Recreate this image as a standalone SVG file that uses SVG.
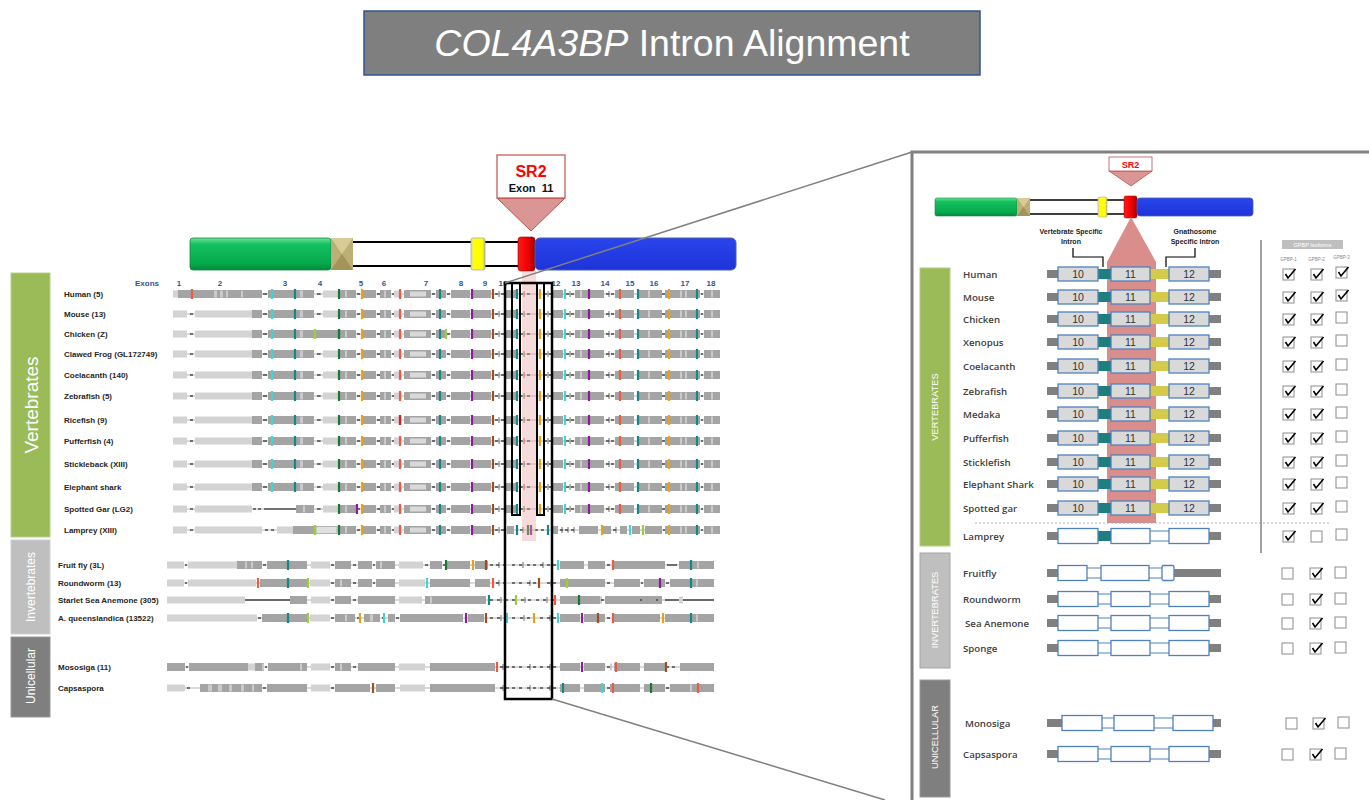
<svg xmlns="http://www.w3.org/2000/svg" width="1369" height="800" viewBox="0 0 1369 800">
<style>
text{font-family:"Liberation Sans",Arial,sans-serif}
.sp{font-size:8px;font-weight:bold;fill:#262626}
.ex{font-size:8px;font-weight:bold;fill:#2f5597;text-anchor:middle}
.lt{stroke:#d3d3d3;stroke-width:7;fill:none}
.dk{stroke:#a4a4a4;stroke-width:8;fill:none}
.ls{stroke:#cacaca;stroke-width:7;fill:none}
.ln{stroke:#b5b5b5;stroke-width:1;fill:none}
.ds{stroke:#4a4a4a;stroke-width:1.3;fill:none}
.vs{stroke:#4a4a4a;stroke-width:0.8;fill:none}
.bl{stroke:#444;stroke-width:1.4;fill:none}
.t{stroke-width:2.2;fill:none}
.cR{stroke:#ee5a44}.cC{stroke:#45d3d3}.cT{stroke:#14878a}.cG{stroke:#1a7a2c}.cO{stroke:#e7a21c}.cP{stroke:#8a1e9a}.cB{stroke:#9c4f22}.cL{stroke:#9dd03a}.cD{stroke:#c62828}
.rl{font-family:"Open Sans","Liberation Sans",Arial,sans-serif;font-size:9.7px;font-weight:600;fill:#404040}
.bn{font-size:10.5px;fill:#333;text-anchor:middle}
.bx{fill:#d9d9d9;stroke:#4f81bd;stroke-width:1.3}
.wb{fill:#fff;stroke:#4f81bd;stroke-width:1.3}
.wc{fill:#fff;stroke:#4f81bd;stroke-width:1}
.cap{fill:#808080}
.cb{fill:#fff;stroke:#8c8c8c;stroke-width:1}
.ck{fill:none;stroke:#000;stroke-width:1.6}
.cat{fill:#fff;text-anchor:middle}
.con{stroke:#808080;stroke-width:1.5;fill:none}
</style>
<defs>
<linearGradient id="gG" x1="0" y1="0" x2="0" y2="1"><stop offset="0" stop-color="#6fe09a"/><stop offset="0.2" stop-color="#14c15e"/><stop offset="0.8" stop-color="#05a94c"/><stop offset="1" stop-color="#03893c"/></linearGradient>
<linearGradient id="gB" x1="0" y1="0" x2="0" y2="1"><stop offset="0" stop-color="#2a45ee"/><stop offset="1" stop-color="#1c33d6"/></linearGradient>
<linearGradient id="gR" x1="0" y1="0" x2="1" y2="0"><stop offset="0" stop-color="#ff1a1a"/><stop offset="0.6" stop-color="#ee0000"/><stop offset="1" stop-color="#a00000"/></linearGradient>
<linearGradient id="gY" x1="0" y1="0" x2="1" y2="0"><stop offset="0" stop-color="#d8d8c0"/><stop offset="0.2" stop-color="#ffff00"/><stop offset="0.8" stop-color="#ffff00"/><stop offset="1" stop-color="#b8b890"/></linearGradient>
<g id="vA">
<path class="ln" d="M173 0H320"/>
<path class="lt" d="M173 0H187M195 0H252"/>
<path class="dk" d="M252 0H262M268 0H314"/>
<path class="ls" d="M300 0h3"/>
<path class="ds" d="M190 0h3M263 0h4M317 0h4"/>
<path class="t cC" d="M272 -5v10"/><path class="t cT" d="M295 -5v10"/>
</g>
<g id="vB">
<path class="ln" d="M320 0H720"/>
<path class="lt" d="M323 0H338M394 0H402"/>
<path class="dk" d="M338 0H356M361 0H376M380 0H391M404 0H431M436 0H446M451 0H470M473 0H491M506 0H516M553 0H563M575 0H588M590 0H604M615 0H634M637 0H662M665 0H700M704 0H720"/>
<rect x="410" y="-2.5" width="16" height="5" fill="#d9d9d9"/>
<path class="ls" d="M345 0h2M384 0h2M580 0h2M648 0h2M680 0h2M685 0h2M711 0h2"/>
<path class="ds" d="M357 0h3M377 0h3M392 0h2M432 0h3M447 0h3M495 0h3M501 0h3M520 0h3M527 0h3M544 0h3M549 0h3M566 0h3M571 0h3M606 0h3M611 0h3M662 0h3M701 0h2"/>
<path class="vs" d="M499 -3v6M548 -3v6M570 -3v6M609 -3v6M524 -3v6"/>
<path class="t cG" d="M339 -5v10"/>
<path class="t cO" d="M362 -5v10M540 -5v10M669 -5v10"/>
<path class="t cR" d="M400 -5v10M620 -5v10"/>
<path class="t cT" d="M440 -5v10M517 -5v10M638 -5v10M697 -5v10"/>
<path class="t cP" d="M472 -5v10M589 -5v10"/>
<path class="t cB" d="M493 -5v10"/>
<path class="t cC" d="M565 -5v10"/>
</g>
<g id="gr">
<rect class="cap" x="1047" y="-4" width="12" height="8"/>
<rect class="cap" x="1208" y="-4" width="13" height="8"/>
<rect x="1097" y="-5" width="15" height="10" fill="#1f7e7e"/>
<rect x="1149" y="-5" width="21" height="10" fill="#d5cb4b"/>
<rect class="bx" x="1058" y="-7" width="40" height="14"/>
<rect class="bx" x="1111" y="-7" width="39" height="14"/>
<rect class="bx" x="1169" y="-7" width="40" height="14"/>
<text class="bn" x="1078" y="3.6">10</text>
<text class="bn" x="1130.5" y="3.6">11</text>
<text class="bn" x="1189" y="3.6">12</text>
</g>
<g id="ir">
<rect class="cap" x="1047" y="-4" width="12" height="8"/>
<rect class="cap" x="1208" y="-4" width="13" height="8"/>
<rect class="wc" x="1097" y="-5" width="15" height="10"/>
<rect class="wc" x="1149" y="-5" width="21" height="10"/>
<rect class="wb" x="1058" y="-7.5" width="40" height="15"/>
<rect class="wb" x="1111" y="-7.5" width="39" height="15"/>
<rect class="wb" x="1169" y="-7.5" width="40" height="15"/>
</g>
<g id="on"><rect class="cb" x="0" y="0" width="11" height="11"/><path class="ck" d="M2.5 5L5 9L12.5 0"/></g>
<g id="off"><rect class="cb" x="0" y="0" width="11" height="11"/></g>
</defs>

<rect width="1369" height="800" fill="#fff"/>

<g id="title">
<rect x="364" y="11" width="616" height="64" fill="#7f7f7f" stroke="#2f5597" stroke-width="1.5"/>
<text x="672" y="56" font-size="37.5" fill="#fff" text-anchor="middle"><tspan font-style="italic">COL4A3BP</tspan> Intron Alignment</text>
</g>

<!-- left category bars -->
<g id="cat-vertebrates">
<rect x="11" y="273" width="39" height="264" fill="#9bbb59" stroke="#b8cf8a" stroke-width="1"/>
<text class="cat" font-size="19" transform="translate(37.7,405) rotate(-90)">Vertebrates</text>
</g>
<g id="cat-invertebrates">
<rect x="11" y="540" width="39" height="94" fill="#bfbfbf" stroke="#d0d0d0" stroke-width="1"/>
<text class="cat" font-size="12" fill="#f2f2f2" transform="translate(35.2,587) rotate(-90)">Invertebrates</text>
</g>
<g id="cat-unicellular">
<rect x="11" y="637" width="39" height="80" fill="#7f7f7f" stroke="#999" stroke-width="1"/>
<text class="cat" font-size="12" transform="translate(35.2,676) rotate(-90)">Unicellular</text>
</g>

<!-- left gene bar -->
<g id="gene-left">
<path d="M353 242H471M353 266H471M485 242H518M485 266H518" stroke="#000" stroke-width="2"/>
<rect x="190" y="238" width="141" height="32" rx="3" fill="url(#gG)" stroke="#0a8a3e" stroke-width="0.8"/>
<rect x="331" y="238" width="22" height="32" fill="#bcae74"/>
<path d="M331 238H353L342 254Z" fill="#d8cb95"/>
<path d="M331 270H353L342 254Z" fill="#a3945a"/>
<rect x="471" y="238" width="14" height="32" rx="2" fill="url(#gY)" stroke="#aaa" stroke-width="0.8"/>
<rect x="518" y="237" width="17" height="34" rx="3" fill="url(#gR)" stroke="#900" stroke-width="0.6"/>
<rect x="535" y="238" width="201" height="32" rx="5" fill="url(#gB)" stroke="#4a5fa8" stroke-width="1"/>
</g>
<g id="sr2-left">
<path d="M497 198H565L531 231Z" fill="#d99694" stroke="#c0504d" stroke-width="1"/>
<rect x="497" y="155" width="68" height="43" fill="#fff" stroke="#c0504d" stroke-width="1.2"/>
<text x="531" y="177" font-size="16" font-weight="bold" fill="#ff0000" text-anchor="middle">SR2</text>
<text x="531" y="192" font-size="11" font-weight="bold" fill="#111" text-anchor="middle" xml:space="preserve">Exon  11</text>
</g>

<g id="exon-numbers">
<text class="ex" x="147" y="285.5">Exons</text>
<text class="ex" x="179" y="285.5">1</text><text class="ex" x="220" y="285.5">2</text><text class="ex" x="285" y="285.5">3</text><text class="ex" x="320" y="285.5">4</text><text class="ex" x="361" y="285.5">5</text><text class="ex" x="384" y="285.5">6</text><text class="ex" x="426" y="285.5">7</text><text class="ex" x="461" y="285.5">8</text><text class="ex" x="485" y="285.5">9</text><text class="ex" x="503" y="285.5">10</text><text class="ex" x="556" y="285.5">12</text><text class="ex" x="576" y="285.5">13</text><text class="ex" x="605" y="285.5">14</text><text class="ex" x="630" y="285.5">15</text><text class="ex" x="654" y="285.5">16</text><text class="ex" x="685" y="285.5">17</text><text class="ex" x="711" y="285.5">18</text>
</g>

<!-- left alignment rows -->
<g id="row-human" transform="translate(0,294)">
<text class="sp" x="64" y="3">Human (5)</text>
<path class="ln" d="M173 0H320"/>
<path class="lt" d="M173 0H178"/>
<path class="dk" d="M178 0H262M268 0H314"/>
<path class="ls" d="M214 0h3M220 0h3M226 0h2M241 0h2M300 0h3"/>
<path class="ds" d="M263 0h4M317 0h4"/>
<path class="t cR" d="M192 -5v10"/><path class="t cC" d="M272 -5v10"/><path class="t cT" d="M295 -5v10"/>
<use href="#vB"/>
</g>
<g id="row-mouse" transform="translate(0,314)"><text class="sp" x="64" y="3">Mouse (13)</text><use href="#vA"/><use href="#vB"/></g>
<g id="row-chicken" transform="translate(0,334)"><text class="sp" x="64" y="3">Chicken (Z)</text><use href="#vA"/><use href="#vB"/><path class="dk" d="M315 0H338"/><path class="t cL" d="M315 -5v10"/><path class="t cG" d="M339 -5v10"/><path class="t cL" d="M446 -5v10"/></g>
<g id="row-frog" transform="translate(0,354)"><text class="sp" x="64" y="3">Clawed Frog (GL172749)</text><use href="#vA"/><use href="#vB"/></g>
<g id="row-coelacanth" transform="translate(0,375)"><text class="sp" x="64" y="3">Coelacanth (140)</text><use href="#vA"/><use href="#vB"/></g>
<g id="row-zebrafish" transform="translate(0,396)"><text class="sp" x="64" y="3">Zebrafish (5)</text><use href="#vA"/><use href="#vB"/></g>
<g id="row-ricefish" transform="translate(0,420)"><text class="sp" x="64" y="3">Ricefish (9)</text><use href="#vA"/><use href="#vB"/><path class="t cD" stroke-width="3" d="M400 -5v10"/></g>
<g id="row-pufferfish" transform="translate(0,441)"><text class="sp" x="64" y="3">Pufferfish (4)</text><use href="#vA"/><use href="#vB"/></g>
<g id="row-stickleback" transform="translate(0,464)"><text class="sp" x="64" y="3">Stickleback (XIII)</text><use href="#vA"/><use href="#vB"/></g>
<g id="row-elephantshark" transform="translate(0,487)"><text class="sp" x="64" y="3">Elephant shark</text><use href="#vA"/><use href="#vB"/></g>
<g id="row-spottedgar" transform="translate(0,509)">
<text class="sp" x="64" y="3">Spotted Gar (LG2)</text>
<path class="ln" d="M173 0H320"/>
<path class="lt" d="M173 0H187M195 0H252"/>
<path class="bl" d="M264 0H296"/>
<path class="dk" d="M296 0H314"/>
<path class="ls" d="M303 0h2"/>
<path class="ds" d="M190 0h3M253 0h3M258 0h3M317 0h4"/>
<use href="#vB"/>
<path class="t cP" d="M357 -5v10"/>
</g>
<g id="row-lamprey" transform="translate(0,530)">
<text class="sp" x="64" y="3">Lamprey (XIII)</text>
<path class="ln" d="M173 0H720"/>
<path class="lt" d="M173 0H187M195 0H262M277 0H293M323 0H338M394 0H402"/>
<rect x="316" y="-3.5" width="21" height="7" fill="#e0e0e0" stroke="#a8a8a8" stroke-width="0.8"/>
<path class="dk" d="M293 0H314M339 0H356M361 0H376M380 0H391M404 0H431M436 0H446M451 0H470M473 0H491M507 0H514M553 0H558M579 0H598M603 0H611M620 0H627M632 0H640M645 0H662M665 0H700M704 0H720"/>
<rect x="410" y="-2.5" width="16" height="5" fill="#d9d9d9"/>
<path class="ls" d="M345 0h2M384 0h2M680 0h2M685 0h2M711 0h2"/>
<path class="ds" d="M190 0h3M265 0h3M271 0h3M357 0h3M377 0h3M392 0h2M432 0h3M447 0h3M495 0h3M501 0h3M520 0h3M535 0h3M541 0h3M560 0h3M565 0h3M571 0h3M613 0h3M663 0h2M701 0h2"/>
<path class="vs" d="M499 -3v6M523 -3v6M562 -3v6M568 -3v6M574 -3v6M616 -3v6"/>
<path class="t cL" d="M315 -5v10M643 -5v10"/>
<path class="t cG" d="M339 -5v10M528 -5v10"/>
<path class="t cO" d="M362 -5v10M602 -5v10M669 -5v10"/>
<path class="t cR" d="M400 -5v10"/>
<path class="t cT" d="M440 -5v10M517 -5v10M548 -5v10M697 -5v10"/>
<path class="t cP" d="M472 -5v10M531 -5v10"/>
<path class="t cB" d="M493 -5v10"/>
<path class="t cC" d="M630 -5v10"/>
</g>

<g id="row-fruitfly" transform="translate(0,565)">
<text class="sp" x="58" y="3">Fruit fly (3L)</text>
<path class="ln" d="M167 0H714"/>
<path class="lt" d="M167 0H184M188 0H237M311 0H330M399 0H423"/>
<path class="dk" d="M237 0H262M267 0H307M335 0H351M358 0H372M376 0H395M430 0H442M446 0H470M475 0H488M560 0H584M588 0H605M614 0H665M679 0H714"/>
<path class="ls" d="M245 0h2M251 0h2M690 0h2M697 0h2M380 0h2"/>
<path class="ds" d="M185 0h2M263 0h3M331 0h3M353 0h3M373 0h2M425 0h3M443 0h2M490 0h3M496 0h3M503 0h3M512 0h3M519 0h3M527 0h3M533 0h3M540 0h3M547 0h3M553 0h3M607 0h3M667 0h10"/>
<path class="vs" d="M499 -3v6M523 -3v6M543 -3v6"/>
<path class="t cT" d="M288 -5v10M691 -5v10"/><path class="t cG" d="M446 -5v10"/><path class="t cO" d="M473 -5v10"/><path class="t cB" d="M486 -5v10"/><path class="t cC" d="M558 -5v10"/><path class="t cR" d="M613 -5v10"/>
</g>
<g id="row-roundworm" transform="translate(0,583)">
<text class="sp" x="58" y="3">Roundworm (13)</text>
<path class="ln" d="M167 0H714"/>
<path class="lt" d="M167 0H184M188 0H256M310 0H330M399 0H425"/>
<path class="dk" d="M260 0H307M335 0H351M358 0H372M376 0H395M430 0H470M475 0H490M560 0H605M614 0H640M644 0H665M670 0H714"/>
<path class="ls" d="M690 0h2M696 0h2M340 0h2"/>
<path class="ds" d="M185 0h2M331 0h3M353 0h3M373 0h2M496 0h3M503 0h3M512 0h3M519 0h3M527 0h3M533 0h3M547 0h3M553 0h3M607 0h3M641 0h2M666 0h3"/>
<path class="vs" d="M499 -3v6M530 -3v6M551 -3v6"/>
<path class="t cR" d="M258 -5v10M493 -5v10"/><path class="t cT" d="M288 -5v10M691 -5v10"/><path class="t cL" d="M308 -5v10M567 -5v10"/><path class="t cC" d="M427 -5v10"/><path class="t cB" d="M539 -5v10"/><path class="t cP" d="M660 -5v10"/>
</g>
<g id="row-anemone" transform="translate(0,600)">
<text class="sp" x="58" y="3">Starlet Sea Anemone (305)</text>
<path class="ln" d="M167 0H714"/>
<path class="lt" d="M167 0H245M311 0H330M399 0H422"/>
<path class="bl" d="M245 0H290M665 0H714"/>
<path class="dk" d="M290 0H307M335 0H351M358 0H395M425 0H486M560 0H600M605 0H662"/>
<path class="ls" d="M430 0h2M600 0h2"/>
<path class="lt" d="M679 0h4"/>
<path class="ds" d="M331 0h3M353 0h3M490 0h3M497 0h3M505 0h3M512 0h3M521 0h3M528 0h3M536 0h3M543 0h3M551 0h3M601 0h3M640 0h2M656 0h2"/>
<path class="vs" d="M501 -3v6M525 -3v6M547 -3v6"/>
<path class="t cT" d="M489 -5v10"/><path class="t cL" d="M516 -5v10"/><path class="t cR" d="M555 -5v10"/><path class="t cG" d="M579 -5v10"/>
</g>
<g id="row-aqueenslandica" transform="translate(0,618)">
<text class="sp" x="58" y="3">A. queenslandica (13522)</text>
<path class="ln" d="M167 0H714"/>
<path class="lt" d="M167 0H257M310 0H330"/>
<path class="dk" d="M262 0H307M335 0H355M364 0H380M388 0H395M400 0H463M468 0H484M560 0H580M584 0H605M614 0H660M665 0H714"/>
<path class="ls" d="M690 0h2M696 0h2M345 0h2M370 0h3"/>
<path class="ds" d="M258 0h3M331 0h3M357 0h3M382 0h3M396 0h3M490 0h3M497 0h3M512 0h3M520 0h3M527 0h3M540 0h3M547 0h3M553 0h3M607 0h3"/>
<path class="vs" d="M501 -3v6M524 -3v6M550 -3v6"/>
<path class="t cT" d="M288 -5v10M691 -5v10"/><path class="t cL" d="M308 -5v10"/><path class="t cO" d="M360 -5v10M534 -5v10M663 -5v10"/><path class="t cC" d="M384 -5v10M507 -5v10M558 -5v10"/><path class="t cP" d="M466 -5v10M582 -5v10"/><path class="t cB" d="M486 -5v10M598 -5v10"/><path class="t cR" d="M613 -5v10"/>
</g>
<g id="row-mososiga" transform="translate(0,667)">
<text class="sp" x="58" y="3">Mososiga (11)</text>
<path class="ln" d="M167 0H714"/>
<path class="lt" d="M248 0H255M311 0H330M399 0H425"/>
<path class="dk" d="M167 0H185M189 0H248M255 0H264M268 0H307M335 0H351M358 0H395M430 0H495M560 0H580M584 0H605M614 0H640M644 0H665M680 0H714"/>
<path class="ls" d="M262 0h2M300 0h2M340 0h2M610 0h2"/>
<path class="ds" d="M186 0h2M265 0h2M331 0h3M353 0h3M500 0h3M506 0h3M512 0h3M519 0h3M527 0h3M533 0h3M540 0h3M547 0h3M553 0h3M607 0h3M666 0h3M672 0h3"/>
<path class="vs" d="M503 -3v6M530 -3v6M550 -3v6"/>
<path class="t cR" d="M497 -5v10M616 -5v10"/><path class="t cP" d="M582 -5v10"/><path class="t cB" d="M666 -5v10"/>
</g>
<g id="row-capsaspora" transform="translate(0,688)">
<text class="sp" x="58" y="3">Capsaspora</text>
<path class="ln" d="M167 0H714"/>
<path class="lt" d="M167 0H185M311 0H330M400 0H425"/>
<path class="dk" d="M200 0H262M267 0H307M335 0H370M376 0H395M430 0H495M560 0H580M584 0H605M610 0H640M644 0H665M670 0H714"/>
<path class="ls" d="M208 0h4M218 0h4M229 0h3M241 0h3M252 0h2M690 0h2"/>
<path class="ds" d="M187 0h3M263 0h3M331 0h3M500 0h3M506 0h3M512 0h3M519 0h3M527 0h3M533 0h3M540 0h3M547 0h3M553 0h3M607 0h3M666 0h3"/>
<path class="vs" d="M503 -3v6M530 -3v6M550 -3v6"/>
<path class="t cB" d="M373 -5v10"/><path class="t cT" d="M563 -5v10"/><path class="t cC" d="M602 -5v10"/><path class="t cR" d="M613 -5v10M698 -5v10"/><path class="t cG" d="M651 -5v10"/>
</g>

<g id="highlight">
<rect x="522" y="271" width="14" height="270" fill="#e6a5a3" opacity="0.4"/>
<rect x="505" y="283" width="47" height="416" fill="none" stroke="#000" stroke-width="2.5"/>
<rect x="512" y="283" width="8" height="232" fill="none" stroke="#000" stroke-width="2"/>
<rect x="537" y="283" width="7" height="232" fill="none" stroke="#000" stroke-width="2"/>
</g>

<g id="connectors">
<path class="con" d="M505 283L912 152"/>
<path class="con" d="M552 699L885 800"/>
</g>

<!-- right panel -->
<g id="panel">
<rect x="912" y="152" width="470" height="660" fill="#fff" stroke="#808080" stroke-width="3"/>
</g>

<g id="gene-right">
<path d="M1030 200H1098M1030 214H1098M1107 200H1124M1107 214H1124" stroke="#000" stroke-width="1.4"/>
<rect x="935" y="198" width="82" height="18" rx="2" fill="url(#gG)" stroke="#0a8a3e" stroke-width="0.6"/>
<rect x="1017" y="198" width="13" height="18" fill="#bcae74"/>
<path d="M1017 198H1030L1023.5 207Z" fill="#d8cb95"/>
<path d="M1017 216H1030L1023.5 207Z" fill="#a3945a"/>
<rect x="1098" y="197" width="9" height="20" rx="1.5" fill="url(#gY)" stroke="#aaa" stroke-width="0.6"/>
<rect x="1124" y="196" width="13" height="22" rx="2" fill="url(#gR)" stroke="#900" stroke-width="0.5"/>
<rect x="1137" y="198" width="116" height="18" rx="3" fill="url(#gB)" stroke="#4a5fa8" stroke-width="0.8"/>
</g>
<g id="sr2-right">
<path d="M1109 171H1152L1131 186Z" fill="#d99694" stroke="#c0504d" stroke-width="0.8"/>
<rect x="1109" y="157" width="43" height="14" fill="#fff" stroke="#c0504d" stroke-width="0.8"/>
<text x="1130.5" y="168" font-size="9" font-weight="bold" fill="#ff0000" text-anchor="middle">SR2</text>
</g>
<g id="sr2-band">
<path d="M1131 217L1156 262V523H1107V262Z" fill="#da8e8c"/>
</g>
<g id="intron-labels" font-size="7" font-weight="bold" fill="#222" text-anchor="middle">
<text x="1071" y="234">Vertebrate Specific</text>
<text x="1071" y="244">Intron</text>
<text x="1195" y="234">Gnathosome</text>
<text x="1195" y="244">Specific Intron</text>
<path d="M1073 248V257H1103V267M1195 248V257H1166V267" fill="none" stroke="#000" stroke-width="1.2"/>
</g>

<g id="cat-right-vertebrates">
<rect x="920" y="268" width="30" height="278" fill="#9bbb59" stroke="#b5cc85" stroke-width="1"/>
<text class="cat" font-size="9.3" transform="translate(938.3,407) rotate(-90)">VERTEBRATES</text>
</g>
<g id="cat-right-invertebrates">
<rect x="920" y="553" width="30" height="115" fill="#bfbfbf" stroke="#a6a6a6" stroke-width="1"/>
<text class="cat" font-size="9.3" transform="translate(938.3,610) rotate(-90)">INVERTEBRATES</text>
</g>
<g id="cat-right-unicellular">
<rect x="920" y="680" width="30" height="117" fill="#7f7f7f" stroke="#999" stroke-width="1"/>
<text class="cat" font-size="9.3" transform="translate(938.3,737) rotate(-90)">UNICELLULAR</text>
</g>

<g id="separators">
<path d="M1261 240V553" stroke="#808080" stroke-width="1.5"/>
<path d="M975 523H1329" stroke="#a0a0a0" stroke-width="0.8" stroke-dasharray="2 2"/>
</g>

<g id="isoforms-header">
<rect x="1282" y="240" width="61" height="9" fill="#bfbfbf"/>
<text x="1312.5" y="247" font-size="5.5" fill="#fff" text-anchor="middle">GPBP Isoforms</text>
<text x="1288.5" y="261" font-size="4.5" fill="#888" text-anchor="middle">GPBP-1</text>
<text x="1316.5" y="261" font-size="4.5" fill="#888" text-anchor="middle">GPBP-2</text>
<text x="1341.5" y="259" font-size="4.5" fill="#888" text-anchor="middle">GPBP-3</text>
</g>

<g id="g-human" transform="translate(0,274)"><text class="rl" x="963" y="3.5">Human</text><use href="#gr"/><use href="#on" x="1283" y="-5"/><use href="#on" x="1311" y="-5"/><use href="#on" x="1336" y="-7"/></g>
<g id="g-mouse" transform="translate(0,297)"><text class="rl" x="963" y="3.5">Mouse</text><use href="#gr"/><use href="#on" x="1283" y="-5"/><use href="#on" x="1311" y="-5"/><use href="#on" x="1336" y="-7"/></g>
<g id="g-chicken" transform="translate(0,319)"><text class="rl" x="963" y="3.5">Chicken</text><use href="#gr"/><use href="#on" x="1283" y="-5"/><use href="#on" x="1311" y="-5"/><use href="#off" x="1336" y="-7"/></g>
<g id="g-xenopus" transform="translate(0,342)"><text class="rl" x="963" y="3.5">Xenopus</text><use href="#gr"/><use href="#on" x="1283" y="-5"/><use href="#on" x="1311" y="-5"/><use href="#off" x="1336" y="-7"/></g>
<g id="g-coelacanth" transform="translate(0,366)"><text class="rl" x="963" y="3.5">Coelacanth</text><use href="#gr"/><use href="#on" x="1283" y="-5"/><use href="#on" x="1311" y="-5"/><use href="#off" x="1336" y="-7"/></g>
<g id="g-zebrafish" transform="translate(0,391)"><text class="rl" x="963" y="3.5">Zebrafish</text><use href="#gr"/><use href="#on" x="1283" y="-5"/><use href="#on" x="1311" y="-5"/><use href="#off" x="1336" y="-7"/></g>
<g id="g-medaka" transform="translate(0,414)"><text class="rl" x="963" y="3.5">Medaka</text><use href="#gr"/><use href="#on" x="1283" y="-5"/><use href="#on" x="1311" y="-5"/><use href="#off" x="1336" y="-7"/></g>
<g id="g-pufferfish" transform="translate(0,438)"><text class="rl" x="963" y="3.5">Pufferfish</text><use href="#gr"/><use href="#on" x="1283" y="-5"/><use href="#on" x="1311" y="-5"/><use href="#off" x="1336" y="-7"/></g>
<g id="g-sticklefish" transform="translate(0,462)"><text class="rl" x="963" y="3.5">Sticklefish</text><use href="#gr"/><use href="#on" x="1283" y="-5"/><use href="#on" x="1311" y="-5"/><use href="#off" x="1336" y="-7"/></g>
<g id="g-elephantshark" transform="translate(0,484)"><text class="rl" x="963" y="3.5">Elephant Shark</text><use href="#gr"/><use href="#on" x="1283" y="-5"/><use href="#on" x="1311" y="-5"/><use href="#off" x="1336" y="-7"/></g>
<g id="g-spottedgar" transform="translate(0,508)"><text class="rl" x="963" y="3.5">Spotted gar</text><use href="#gr"/><use href="#on" x="1283" y="-5"/><use href="#on" x="1311" y="-5"/><use href="#off" x="1336" y="-7"/></g>
<g id="g-lamprey" transform="translate(0,536)">
<text class="rl" x="963" y="3.5">Lamprey</text>
<rect class="cap" x="1047" y="-4" width="12" height="8"/>
<rect class="cap" x="1208" y="-4" width="13" height="8"/>
<rect x="1097" y="-5" width="15" height="10" fill="#1f7e7e"/>
<rect class="wc" x="1149" y="-5" width="21" height="10"/>
<rect class="wb" x="1058" y="-7.5" width="40" height="15"/>
<rect class="wb" x="1111" y="-7.5" width="39" height="15"/>
<rect class="wb" x="1169" y="-7.5" width="40" height="15"/>
<use href="#on" x="1283" y="-5"/><use href="#off" x="1311" y="-5"/><use href="#off" x="1336" y="-7"/>
</g>
<g id="g-fruitfly" transform="translate(0,573)">
<text class="rl" x="963" y="3.5">Fruitfly</text>
<rect class="cap" x="1047" y="-4" width="12" height="8"/>
<rect class="cap" x="1173" y="-4" width="48" height="8"/>
<rect class="wc" x="1086" y="-5" width="16" height="10"/>
<rect class="wc" x="1148" y="-5" width="15" height="10"/>
<rect class="wb" x="1058" y="-7.5" width="29" height="15"/>
<rect class="wb" x="1101" y="-7.5" width="48" height="15"/>
<rect class="wb" x="1162" y="-7.5" width="12" height="15" rx="1.5"/>
<use href="#off" x="1282" y="-5"/><use href="#on" x="1310" y="-5"/><use href="#off" x="1335" y="-6"/>
</g>
<g id="g-roundworm" transform="translate(0,599)"><text class="rl" x="963" y="3.5">Roundworm</text><use href="#ir"/><use href="#off" x="1282" y="-5"/><use href="#on" x="1310" y="-5"/><use href="#off" x="1335" y="-6"/></g>
<g id="g-seaanemone" transform="translate(0,623)"><text class="rl" x="965" y="3.5">Sea Anemone</text><use href="#ir"/><use href="#off" x="1282" y="-5"/><use href="#on" x="1310" y="-5"/><use href="#off" x="1335" y="-6"/></g>
<g id="g-sponge" transform="translate(0,648)"><text class="rl" x="963" y="3.5">Sponge</text><use href="#ir"/><use href="#off" x="1282" y="-5"/><use href="#on" x="1310" y="-5"/><use href="#off" x="1335" y="-6"/></g>
<g id="g-monosiga" transform="translate(0,723)">
<text class="rl" x="965" y="3.5">Monosiga</text>
<rect class="cap" x="1047" y="-4" width="16" height="8"/>
<rect class="cap" x="1212" y="-4" width="9" height="8"/>
<rect class="wc" x="1101" y="-5" width="14" height="10"/>
<rect class="wc" x="1153" y="-5" width="21" height="10"/>
<rect class="wb" x="1062" y="-7.5" width="40" height="15"/>
<rect class="wb" x="1114" y="-7.5" width="40" height="15"/>
<rect class="wb" x="1173" y="-7.5" width="40" height="15"/>
<use href="#off" x="1286" y="-5"/><use href="#on" x="1313" y="-5"/><use href="#off" x="1338" y="-6"/>
</g>
<g id="g-capsaspora" transform="translate(0,754)"><text class="rl" x="963" y="3.5">Capsaspora</text><use href="#ir"/><use href="#off" x="1282" y="-5"/><use href="#on" x="1310" y="-5"/><use href="#off" x="1335" y="-6"/></g>
</svg>
